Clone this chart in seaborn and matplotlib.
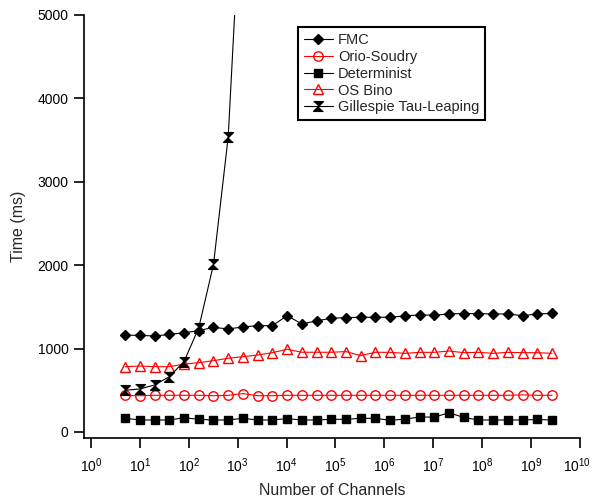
#!/usr/bin/python

'''
Plot simulation time vs number of channels
'''

import numpy as np
import pandas as pd
from matplotlib import pyplot as plt
from matplotlib import transforms
import seaborn as sns

# - data ----------------------------------------------------------------------
# channel counts: 5 * 2^k, k = 0..29
channels = [5 * 2 ** k for k in range(30)]

fmc = [1160, 1160, 1150, 1170, 1190, 1215, 1255, 1235, 1260, 1275,
       1275, 1395, 1296, 1332, 1364, 1371, 1376, 1376, 1376, 1392,
       1404, 1400, 1416, 1420, 1420, 1415, 1415, 1395, 1415, 1422]
orio_soudry = [440, 435, 440, 440, 440, 440, 435, 440, 460, 435,
               435, 440, 440, 440, 440, 440, 440, 440, 440, 440,
               440, 440, 440, 440, 440, 440, 440, 445, 440, 440]
determinist = [164, 144, 144, 144, 171, 152, 144, 144, 164, 144,
               144, 160, 144, 144, 152, 152, 164, 164, 140, 154,
               180, 178, 231, 174, 144, 144, 144, 144, 150, 144]
os_bino = [783, 791, 783, 783, 815, 831, 855, 884, 903, 923,
           951, 992, 956, 956, 956, 964, 916, 956, 955, 943,
           955, 955, 971, 951, 955, 943, 955, 951, 951, 943]
gillespie = [500, 516, 564, 663, 845, 1250, 2010, 3540, 6900]

series = ['FMC', 'Orio-Soudry', 'Determinist', 'OS Bino', 'Gillespie Tau-Leaping']
values = [fmc, orio_soudry, determinist, os_bino, gillespie]

hourglass = [(-1, 1), (1, 1), (-1, -1), (1, -1)]
styles = {
    'FMC': dict(color='black', marker='D', markersize=5.0,
                markerfacecolor='black', markeredgecolor='black'),
    'Orio-Soudry': dict(color='red', marker='o', markersize=6.8,
                        markerfacecolor='none', markeredgecolor='red'),
    'Determinist': dict(color='black', marker='s', markersize=6.2,
                        markerfacecolor='black', markeredgecolor='black'),
    'OS Bino': dict(color='red', marker='^', markersize=6.8,
                    markerfacecolor='none', markeredgecolor='red'),
    'Gillespie Tau-Leaping': dict(color='black', marker=hourglass, markersize=7,
                                  markerfacecolor='black', markeredgecolor='black'),
}

# - run -----------------------------------------------------------------------
if __name__ == '__main__':
    sns.set_style('ticks')
    plt.rcParams['font.family'] = ['Liberation Sans', 'DejaVu Sans']
    plt.rcParams['mathtext.default'] = 'regular'

    fig = plt.figure(figsize=(5.93, 5.0), dpi=100)
    ax = fig.add_axes([84 / 593, 62 / 500, 496 / 593, 423 / 500])

    for name, vals in zip(series, values):
        df = pd.DataFrame({'channels': channels[:len(vals)], 'time': vals})
        sns.lineplot(x='channels', y='time', data=df, ax=ax, label=name,
                     linewidth=0.8, markeredgewidth=1.0, **styles[name])

    ax.set_xscale('log')
    ax.set_xlim(10 ** -0.143, 1e10)
    ax.set_ylim(-72, 5000)
    ax.set_xticks([10.0 ** e for e in range(11)])
    ax.xaxis.set_minor_locator(plt.NullLocator())
    ax.set_yticks([0, 1000, 2000, 3000, 4000, 5000])

    for side in ['top', 'right']:
        ax.spines[side].set_visible(False)
    for side in ['left', 'bottom']:
        ax.spines[side].set_linewidth(1.2)
        ax.spines[side].set_color('black')
    ax.tick_params(axis='both', direction='out', length=7, width=1.2,
                   colors='black', labelsize=10, pad=4)
    ax.tick_params(axis='x', labelsize=10, pad=6)

    # the last decade label sits right at the figure edge; nudge it in a little
    fig.canvas.draw()
    last = ax.get_xticklabels()[-1]
    last.set_transform(last.get_transform() +
                       transforms.ScaledTranslation(-3 / 100, 0, fig.dpi_scale_trans))

    ax.set_xlabel('Number of Channels', fontsize=11.5, labelpad=6)
    ax.set_ylabel('Time (ms)', fontsize=11.5, labelpad=8)

    leg = ax.legend(loc='upper left', bbox_to_anchor=(298 / 593, 1 - 27 / 500),
                    bbox_transform=fig.transFigure, borderaxespad=0,
                    fontsize=10.5, frameon=True, fancybox=False, framealpha=1,
                    handlelength=2.0, handletextpad=0.35, labelspacing=0.2,
                    borderpad=0.4)
    leg.get_frame().set_edgecolor('black')
    leg.get_frame().set_linewidth(1.5)

    plt.savefig('out.png', dpi=100)
